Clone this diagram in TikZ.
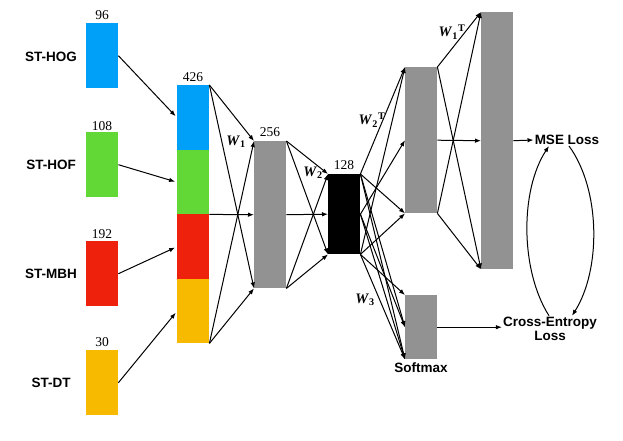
\documentclass[tikz,border=0pt]{standalone}
\usepackage{fontspec}
\setmainfont{Liberation Serif}
\setsansfont{Liberation Sans}
\usetikzlibrary{arrows.meta}
\definecolor{cblue}{HTML}{00A0F8}
\definecolor{cgreen}{HTML}{61D836}
\definecolor{cred}{HTML}{EE220C}
\definecolor{cyellow}{HTML}{F8BA00}
\definecolor{cgray}{HTML}{929292}
\begin{document}
\begin{tikzpicture}[x=1pt,y=-1pt,
  blk/.style={rectangle,inner sep=0pt,minimum width=32pt,anchor=north west,draw=none},
  lbl/.style={font=\sffamily\bfseries\fontsize{13.5}{15.5}\selectfont,inner sep=1pt},
  num/.style={font=\fontsize{13.5}{15}\selectfont,inner sep=1pt},
  wl/.style={font=\fontsize{14.5}{16}\selectfont,inner sep=0pt},
  conn/.style={line width=1pt,-{Latex[length=6pt,width=4.5pt]}},
  plain/.style={line width=1pt}]
\useasboundingbox (0,0) rectangle (623,440);
% inputs
\node[blk,fill=cblue,minimum height=65pt] (hog) at (86,23) {};
\node[blk,fill=cgreen,minimum height=65pt] (hof) at (86,132) {};
\node[blk,fill=cred,minimum height=65pt] (mbh) at (86,241) {};
\node[blk,fill=cyellow,minimum height=65pt] (dt) at (86,350) {};
\node[lbl] (lhog) at (51,57) {ST-HOG};
\node[lbl] (lhof) at (51,165) {ST-HOF};
\node[lbl] (lmbh) at (51,274) {ST-MBH};
\node[lbl] (ldt) at (51,383) {ST-DT};
\node[num] (n96) at (102,15) {96};
\node[num] (n108) at (102,126) {108};
\node[num] (n192) at (102,234) {192};
\node[num] (n30) at (102,342) {30};
% concatenation
\node[blk,fill=cblue,minimum height=65pt] (cb) at (177,85) {};
\node[blk,fill=cgreen,minimum height=64pt] (cg) at (177,150) {};
\node[blk,fill=cred,minimum height=65pt] (cr) at (177,214) {};
\node[blk,fill=cyellow,minimum height=64pt] (cy) at (177,279) {};
\node[num] (n426) at (193,77) {426};
% layers
\node[blk,fill=cgray,minimum height=147pt] (h1) at (254,141) {};
\node[num] (n256) at (270,132) {256};
\node[blk,fill=black,minimum height=80pt] (h2) at (328,174) {};
\node[num] (n128) at (344,165) {128};
\node[blk,fill=cgray,minimum height=146pt] (d1) at (405,67) {};
\node[blk,fill=cgray,minimum height=257pt] (d2) at (481,12) {};
\node[blk,fill=cgray,minimum height=64pt] (sm) at (405,295) {};
\node[lbl] (lsm) at (421,368) {Softmax};
% losses
\node[lbl] (mse) at (567,140) {MSE Loss};
\node[lbl,align=center] (ce) at (550,329) {Cross-Entropy\\[-1pt]Loss};
% input arrows
\draw[conn,shorten >=2pt] (hog.east) -- (cb.west);
\draw[conn,shorten >=2pt] (hof.east) -- (cg.west);
\draw[conn,shorten >=2pt] (mbh.east) -- (cr.west);
\draw[conn,shorten >=2pt] (dt.east) -- (cy.west);
% concat -> h1
\draw[conn] (cb.north east) -- (h1.north west);
\draw[conn] (cb.north east) -- (h1.south west);
\draw[conn] (cg.south east) -- (h1.west);
\draw[conn] (cy.south east) -- (h1.north west);
\draw[conn] (cy.south east) -- (h1.south west);
% h1 -> h2
\draw[conn] (h1.north east) -- (h2.north west);
\draw[conn] (h1.north east) -- (h2.south west);
\draw[conn] (h1.east) -- (h2.west);
\draw[conn] (h1.south east) -- (h2.north west);
\draw[conn] (h1.south east) -- (h2.south west);
% h2 -> d1
\draw[conn] (h2.north east) -- (d1.north west);
\draw[conn] (h2.north east) -- (d1.south west);
\draw[conn] (h2.east) -- (d1.west);
\draw[conn] (h2.south east) -- (d1.north west);
\draw[conn] (h2.south east) -- (d1.south west);
% h2 -> softmax
\draw[conn] (h2.north east) -- (sm.west);
\draw[conn] (h2.north east) -- (sm.south west);
\draw[conn] (h2.east) -- (sm.south west);
\draw[conn] (h2.east) -- (sm.west);
\draw[conn] (h2.south east) -- (sm.north west);
\draw[conn] (h2.south east) -- (sm.south west);
% d1 -> d2
\draw[conn] (d1.north east) -- (d2.north west);
\draw[conn] (d1.north east) -- (d2.south west);
\draw[conn] (d1.east) -- (d2.west);
\draw[conn] (d1.south east) -- (d2.north west);
\draw[conn] (d1.south east) -- (d2.south west);
% outputs
\draw[conn] (d2.east) -- (mse.west);
\draw[conn] (sm.east) -- (ce.west |- sm.east);
\draw[conn] ([xshift=-1pt]ce.north) .. controls (520,270) and (520,190) .. ([xshift=-18pt]mse.south);
\draw[conn] ([xshift=2pt]mse.south) .. controls (601,190) and (601,270) .. ([xshift=22pt]ce.north);
% weight labels
\node[wl] (w1) at (236,142) {\textbf{\textit{W}}\textsubscript{\textbf{1}}};
\node[wl] (w2) at (313,173) {\textbf{\textit{W}}\textsubscript{\textbf{2}}};
\node[wl] (w2t) at (372,120) {\textbf{\textit{W}}\textsubscript{\textbf{2}}\textsuperscript{\textbf{T}}};
\node[wl] (w1t) at (452,32) {\textbf{\textit{W}}\textsubscript{\textbf{1}}\textsuperscript{\textbf{T}}};
\node[wl] (w3) at (365,300) {\textbf{\textit{W}}\textsubscript{\textbf{3}}};
\end{tikzpicture}
\end{document}
